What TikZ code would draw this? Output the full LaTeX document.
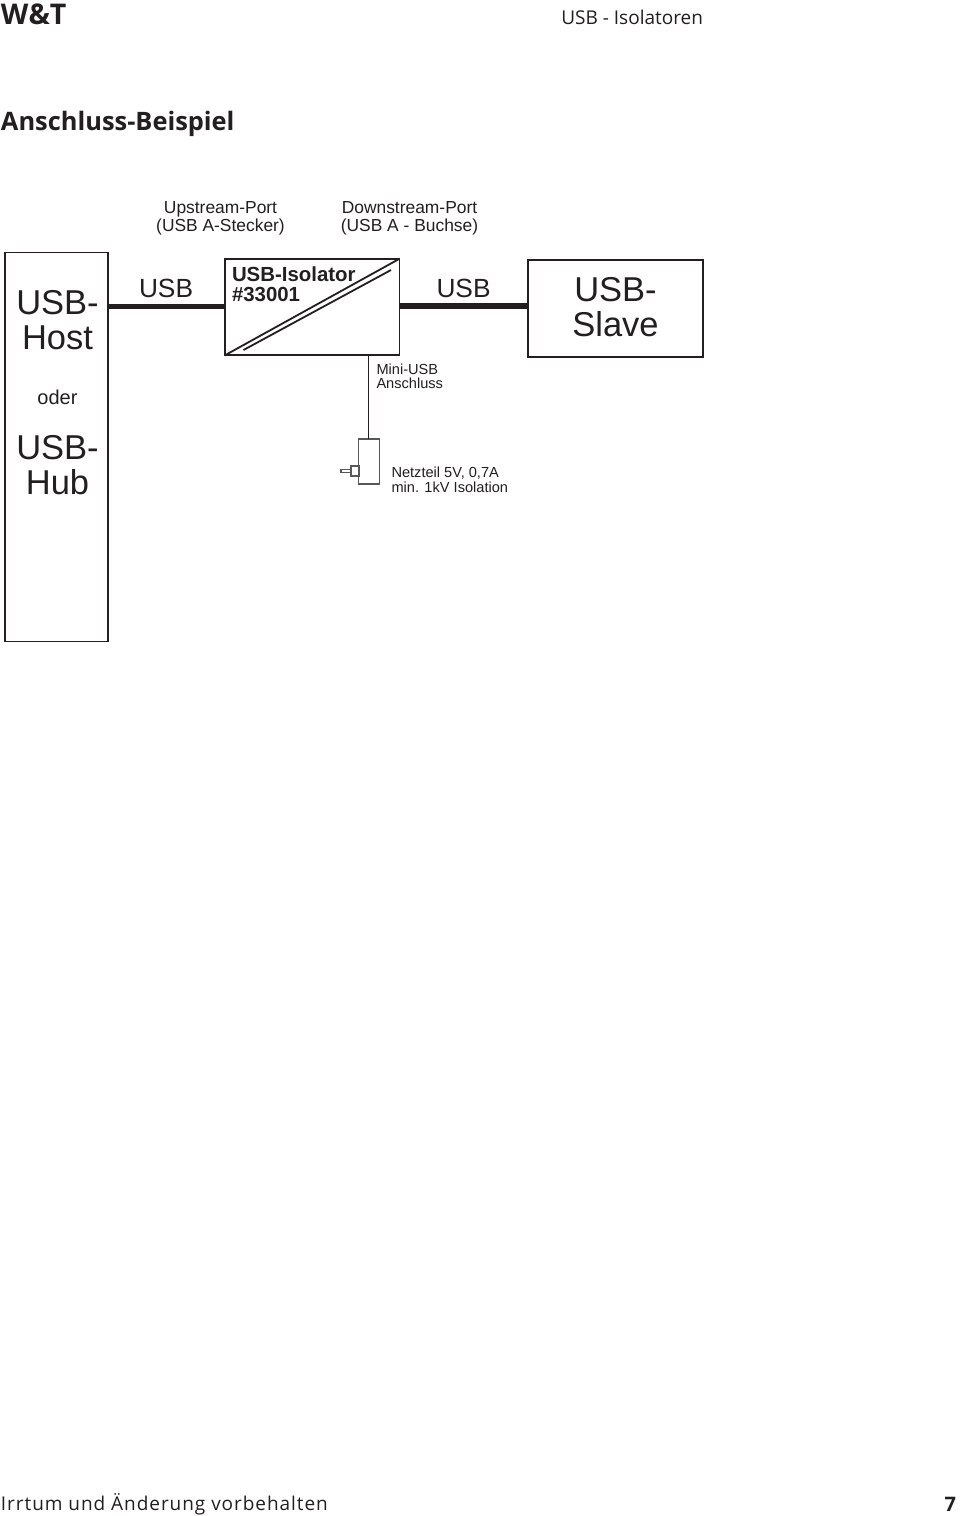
\documentclass[tikz,border=0pt]{standalone}
\usepackage{fontspec}
\setmainfont{Liberation Sans}
\newfontfamily\headfont{Open Sans}
\newfontfamily\footfont[LetterSpace=5]{Open Sans}
\definecolor{ink}{HTML}{231F20}
\newcommand{\fsz}[2]{\fontsize{#1}{#2}\selectfont}
\tikzset{
  blockbox/.style={draw=ink,line width=1.8pt,fill=white,inner sep=0pt,outer sep=0pt},
  cable/.style={draw=ink,line width=5.5pt},
  thinwire/.style={draw=ink,line width=1.8pt},
  plugpart/.style={draw=ink!75,line width=1.1pt,fill=white,inner sep=0pt,outer sep=0pt},
  every node/.style={text=ink,inner sep=0pt,outer sep=0pt},
  big/.style={font=\fsz{34.5}{35},align=center,anchor=base},
  mid/.style={font=\fsz{26.3}{28},anchor=base west},
  portlabel/.style={font=\fsz{17.4}{18},align=center,anchor=base},
  small/.style={font=\fsz{14.6}{14.5},align=left,anchor=base west},
}
\begin{document}
\begin{tikzpicture}[x=1pt,y=-1pt]
\useasboundingbox (0,0) rectangle (960,1516);
\fill[white] (0,0) rectangle (960,1516);

% page furniture
\node[font=\headfont\bfseries\fsz{28.5}{30},anchor=base west] (brand) at (1,24) {W\&T};
\node[font=\headfont\fsz{19}{20},anchor=base east] (chapter) at (703,24) {USB - Isolatoren};
\node[font=\headfont\bfseries\fsz{25.4}{26},anchor=base west] (heading) at (1,130) {Anschluss-Beispiel};
\node[font=\footfont\fsz{19}{22},anchor=base west] (note) at (1,1510) {Irrtum und Änderung vorbehalten};
\node[font=\headfont\bfseries\fsz{20}{22},anchor=base east] (pageno) at (956,1511) {7};

% main blocks
\node[blockbox,minimum width=103.5,minimum height=389] (host) at (56.5,447) {};
\node[blockbox,minimum width=174.5,minimum height=96.5] (iso) at (312.25,307) {};
\node[blockbox,minimum width=175,minimum height=97] (slave) at (615.5,308.5) {};

% USB cables and the isolation barrier
\coordinate (upport) at (108,306.5);
\coordinate (downport) at (400,306);
\draw[cable] (upport) -- (upport -| iso.west);
\draw[cable] (downport) -- (downport -| slave.west);
\draw[thinwire] (iso.south west) -- (iso.north east);
\coordinate (barrierA) at (243.5,350);
\coordinate (barrierB) at (391,270);
\draw[thinwire] (barrierA) -- (barrierB);

% power supply
\node[plugpart,minimum width=21,minimum height=45] (psu) at (369,461.5) {};
\node[plugpart,minimum width=8,minimum height=10] (socket) at (355,471) {};
\node[plugpart,minimum width=10,minimum height=3.5] (pin) at (346,471) {};
\coordinate (stemtop) at (368.5,355);
\draw[thinwire] (stemtop) -- (stemtop |- psu.north);

% labels (a multi-line node's base anchor sits on its last line)
\node[big] (hostlabel) at (57.5,349) {USB-\\Host};
\node[font=\fsz{20}{22},anchor=base] (oder) at (57.5,404) {oder};
\node[big] (hublabel) at (57.5,494) {USB-\\Hub};
\node[big] (slavelabel) at (615.5,336) {USB-\\Slave};
\node[mid] (usbleft) at (139,297) {USB};
\node[mid] (usbright) at (436.5,297) {USB};
\node[font=\bfseries\fsz{20.4}{20},align=left,anchor=base west] (isolabel) at (232,301) {USB-Isolator\\\#33001};
\node[portlabel] (upstream) at (220.5,231) {Upstream-Port\\(USB A-Stecker)};
\node[portlabel] (downstream) at (409.5,231) {Downstream-Port\\(USB A - Buchse)};
\node[small] (minilabel) at (376.5,388.5) {Mini-USB\\Anschluss};
\node[small] (psulabel) at (391.5,492) {Netzteil 5V, 0,7A\\min. 1kV Isolation};
\end{tikzpicture}
\end{document}
